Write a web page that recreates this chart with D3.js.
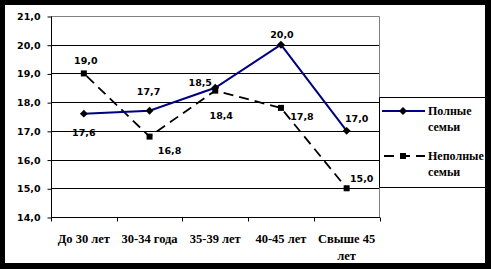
<!DOCTYPE html>
<html>
<head>
<meta charset="utf-8">
<script src="https://cdn.jsdelivr.net/npm/d3@7"></script>
<style>
  body { margin: 0; background: #000; }
  svg { display: block; }
</style>
</head>
<body>
<script>
// categories and series
var categories = ['До 30 лет', '30-34 года', '35-39 лет', '40-45 лет', 'Свыше 45 лет'];
var fullFamilies = [17.6, 17.7, 18.5, 20.0, 17.0];
var singleParent = [19.0, 16.8, 18.4, 17.8, 15.0];
var yTicks = [14, 15, 16, 17, 18, 19, 20, 21];

// label placement (dx, dy from the point)
var fullLabelPos = [[0, 19], [-1, -19], [-15, -5], [1, -10], [10, -12]];
var singleLabelPos = [[2, -13], [20, 14], [6, 25], [21, 9], [15, -10]];

var W = 491, H = 269;
var svg = d3.select('body').append('svg')
  .attr('width', W)
  .attr('height', H);

// black frame, white page
svg.append('rect').attr('width', W).attr('height', H).attr('fill', '#000');
svg.append('rect').attr('x', 5).attr('y', 5).attr('width', 480).attr('height', 258).attr('fill', '#fff');

var plotLeft = 51, plotRight = 379.5, plotTop = 16, plotBottom = 217;

var xScale = d3.scaleBand().domain(categories).range([plotLeft, plotRight]);
var yScale = d3.scaleLinear().domain([14, 21]).range([plotBottom, plotTop]);

var numFont = "'DejaVu Sans', Verdana, sans-serif";
var serifFont = "'Liberation Serif', 'Times New Roman', serif";

//gridlines
svg.append('g')
  .selectAll('line')
  .data(yTicks.filter(function (d) { return d > 14 && d < 21; }))
  .enter().append('line')
  .attr('x1', plotLeft).attr('x2', plotRight)
  .attr('y1', function (d) { return Math.round(yScale(d)) + 0.5; })
  .attr('y2', function (d) { return Math.round(yScale(d)) + 0.5; })
  .attr('stroke', '#000');

//plot border top/right (gray)
svg.append('path')
  .attr('d', 'M' + plotLeft + ',' + (plotTop + 0.5) + 'H' + plotRight + 'V' + plotBottom)
  .attr('fill', 'none')
  .attr('stroke', '#808080');

//y axis
var yAxis = svg.append('g')
  .attr('transform', 'translate(' + (plotLeft + 0.5) + ',0.5)')
  .call(d3.axisLeft(yScale).tickValues(yTicks).tickSize(4).tickPadding(7)
    .tickFormat(function (d) { return d3.format('.1f')(d).replace('.', ','); }));
yAxis.select('.domain').attr('stroke', '#000').attr('d', 'M0,' + plotTop + 'V' + plotBottom);
yAxis.selectAll('.tick line').attr('stroke', '#000');
yAxis.selectAll('.tick text')
  .attr('fill', '#000')
  .style('font-family', numFont)
  .style('font-weight', 'bold')
  .style('font-size', '9.5px');

//x axis
var xAxis = svg.append('g')
  .attr('transform', 'translate(0,' + (plotBottom + 0.5) + ')');
xAxis.append('line')
  .attr('x1', plotLeft).attr('x2', plotRight + 0.5)
  .attr('stroke', '#000');
var bounds = categories.map(function (c) { return xScale(c); }).concat([plotRight]);
xAxis.selectAll('.tk')
  .data(bounds)
  .enter().append('line')
  .attr('x1', function (d) { return Math.round(d) + 0.5; })
  .attr('x2', function (d) { return Math.round(d) + 0.5; })
  .attr('y1', 0).attr('y2', 4)
  .attr('stroke', '#000');

var xText = xAxis.selectAll('.lbl')
  .data(categories)
  .enter().append('text')
  .attr('text-anchor', 'middle')
  .attr('x', function (d) { return xScale(d) + xScale.bandwidth() / 2; })
  .attr('y', 25)
  .style('font-family', serifFont)
  .style('font-weight', 'bold')
  .style('font-size', '12.5px');
xText.each(function (d) {
  var t = d3.select(this);
  var x = xScale(d) + xScale.bandwidth() / 2;
  if (d === 'Свыше 45 лет') {
    t.append('tspan').attr('x', x).text('Свыше 45');
    t.append('tspan').attr('x', x).attr('dy', 17).text('лет');
  } else {
    t.text(d);
  }
});

function cx(i) { return xScale(categories[i]) + xScale.bandwidth() / 2; }

//lines
var line = d3.line()
  .x(function (d, i) { return cx(i); })
  .y(function (d) { return yScale(d); });

svg.append('path')
  .datum(singleParent)
  .attr('d', line)
  .attr('fill', 'none')
  .attr('stroke', '#000')
  .attr('stroke-width', 1.8)
  .attr('stroke-dasharray', '10,6')
  .attr('stroke-dashoffset', -4);

svg.append('path')
  .datum(fullFamilies)
  .attr('d', line)
  .attr('fill', 'none')
  .attr('stroke', '#000080')
  .attr('stroke-width', 2);

//markers
var diamond = d3.symbol().type(d3.symbolDiamond2).size(40);
var square = d3.symbol().type(d3.symbolSquare).size(36);

svg.append('g').selectAll('path')
  .data(singleParent)
  .enter().append('path')
  .attr('d', square)
  .attr('transform', function (d, i) { return 'translate(' + cx(i) + ',' + yScale(d) + ')'; })
  .attr('fill', '#000');

svg.append('g').selectAll('path')
  .data(fullFamilies)
  .enter().append('path')
  .attr('d', diamond)
  .attr('transform', function (d, i) { return 'translate(' + cx(i) + ',' + yScale(d) + ')'; })
  .attr('fill', '#000');

//data labels
function addLabels(values, pos) {
  svg.append('g').selectAll('text')
    .data(values)
    .enter().append('text')
    .attr('text-anchor', 'middle')
    .attr('dominant-baseline', 'central')
    .attr('x', function (d, i) { return cx(i) + pos[i][0]; })
    .attr('y', function (d, i) { return yScale(d) + pos[i][1]; })
    .style('font-family', numFont)
    .style('font-weight', 'bold')
    .style('font-size', '9.5px')
    .text(function (d) { return d3.format('.1f')(d).replace('.', ','); });
}
addLabels(fullFamilies, fullLabelPos);
addLabels(singleParent, singleLabelPos);

//legend
var lg = svg.append('g');
lg.append('path')
  .attr('d', 'M485,97.5H379.5V187.5H485')
  .attr('fill', 'none')
  .attr('stroke', '#000');

var legendItems = [
  { name: ['Полные', 'семьи'], color: '#000080', dash: null, sym: diamond, y: 111 },
  { name: ['Неполные', 'семьи'], color: '#000', dash: '10,6', sym: square, y: 156 }
];
legendItems.forEach(function (it) {
  lg.append('line')
    .attr('x1', 382).attr('x2', 425)
    .attr('y1', it.y).attr('y2', it.y)
    .attr('stroke', it.color)
    .attr('stroke-width', 2)
    .attr('stroke-dasharray', it.dash ? '10,6' : null)
    .attr('stroke-dashoffset', it.dash ? -2 : null);
  lg.append('path')
    .attr('d', it.sym)
    .attr('transform', 'translate(403,' + it.y + ')')
    .attr('fill', '#000');
  var t = lg.append('text')
    .attr('x', 428)
    .attr('y', it.y + 4)
    .style('font-family', serifFont)
    .style('font-weight', 'bold')
    .style('font-size', '12px');
  t.append('tspan').attr('x', 428).text(it.name[0]);
  t.append('tspan').attr('x', 428).attr('dy', 16).text(it.name[1]);
});
</script>
</body>
</html>
